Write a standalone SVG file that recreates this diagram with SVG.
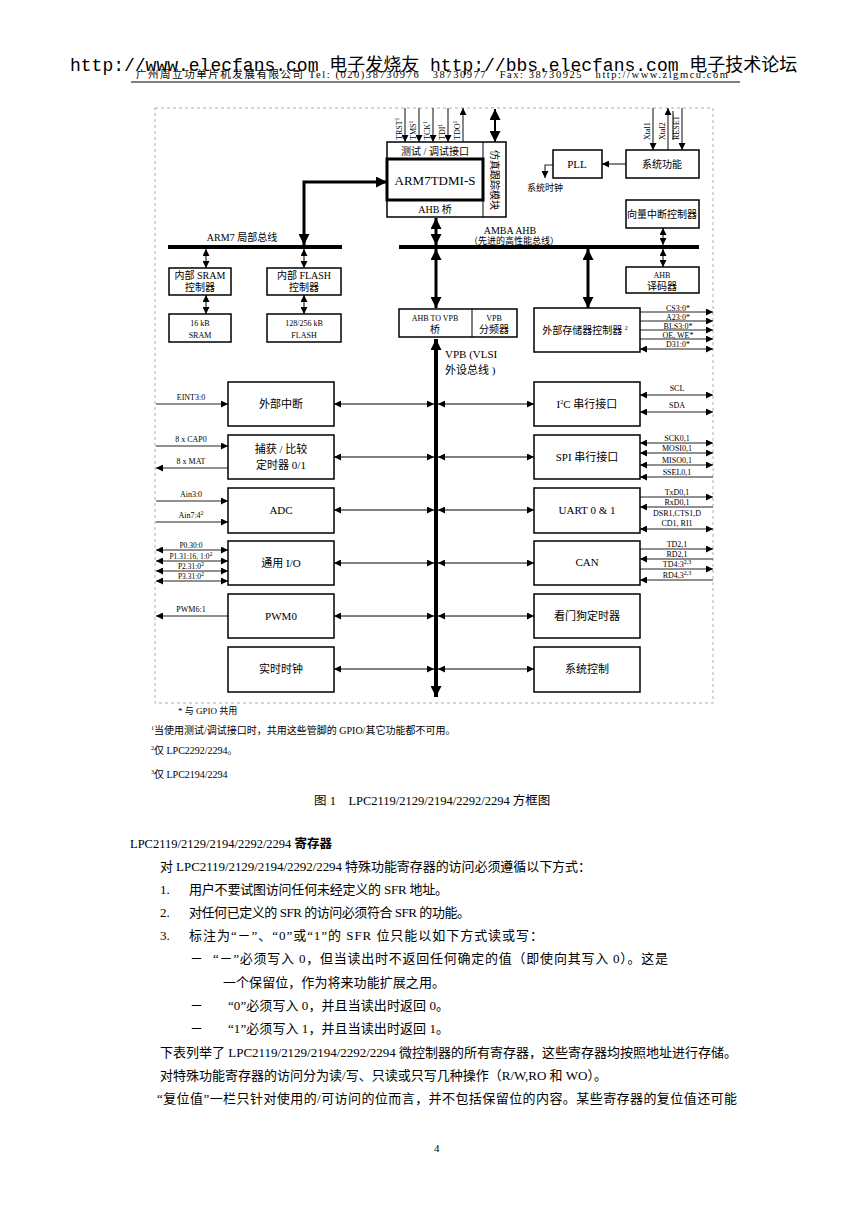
<svg xmlns="http://www.w3.org/2000/svg" width="868" height="1228" viewBox="0 0 868 1228">
<style>
.t{font-family:"Liberation Serif","Noto Sans CJK SC",serif;fill:#000}
.c{text-anchor:middle}
.f7{font-size:7.5px}.f8{font-size:8px}.f9{font-size:9px}.f10{font-size:10px}.f11{font-size:11px}.f12{font-size:12.5px}.f13{font-size:13px}
.box{fill:#fff;stroke:#000;stroke-width:1.5}
.bus{stroke:#000;stroke-width:4;fill:none}
.thick{stroke:#000;stroke-width:3;fill:none}
.thin{stroke:#000;stroke-width:1;fill:none}
.pin{stroke:#222;stroke-width:1.1;fill:none}
.sup{font-size:6px}
</style>
<defs>
<marker id="s" viewBox="0 0 8 8" refX="8" refY="4" markerWidth="7" markerHeight="7" markerUnits="userSpaceOnUse" orient="auto-start-reverse"><path d="M0,0L8,4L0,8z" fill="#000"/></marker>
<marker id="b" viewBox="0 0 10 10" refX="10" refY="5" markerWidth="11" markerHeight="11" markerUnits="userSpaceOnUse" orient="auto-start-reverse"><path d="M0,0L10,5L0,10z" fill="#000"/></marker>
</defs>
<rect width="868" height="1228" fill="#fff"/>

<g id="header">
<text class="t" x="136" y="78" font-size="10.5" textLength="592" xml:space="preserve">广州周立功单片机发展有限公司 Tel: (020)38730976   38730977   Fax: 38730925   http://www.zlgmcu.com</text>
<text x="70" y="71" font-family="Liberation Mono,'Noto Sans CJK SC',monospace" font-size="18" fill="#000">http://www.elecfans.com 电子发烧友 http://bbs.elecfans.com 电子技术论坛</text>
<line x1="131" y1="82" x2="740" y2="82" stroke="#000" stroke-width="1"/>
</g>

<rect id="frame" x="155" y="108" width="558" height="595" fill="none" stroke="#999" stroke-width="0.8" stroke-dasharray="3,3"/>

<g id="connectors">
<line class="bus" x1="168" y1="247" x2="342" y2="247"/>
<line class="bus" x1="399" y1="247" x2="699" y2="247"/>
<line class="bus" x1="436" y1="339" x2="436" y2="697" marker-start="url(#b)" marker-end="url(#b)"/>
<path class="thick" d="M304,245V182H387" marker-start="url(#b)" marker-end="url(#b)"/>
<line class="thick" x1="436" y1="218" x2="436" y2="245" marker-start="url(#b)" marker-end="url(#b)"/>
<line class="thick" x1="436" y1="249" x2="436" y2="308" marker-start="url(#b)" marker-end="url(#b)"/>
<line class="thick" x1="588" y1="249" x2="588" y2="308" marker-start="url(#b)" marker-end="url(#b)"/>
<line stroke="#000" stroke-width="2" x1="495" y1="109" x2="495" y2="142" marker-start="url(#b)" marker-end="url(#b)"/>
<line class="thin" x1="206" y1="249" x2="206" y2="268" marker-start="url(#s)" marker-end="url(#s)"/>
<line class="thin" x1="206" y1="295" x2="206" y2="314" marker-start="url(#s)" marker-end="url(#s)"/>
<line class="thin" x1="304" y1="249" x2="304" y2="268" marker-start="url(#s)" marker-end="url(#s)"/>
<line class="thin" x1="304" y1="295" x2="304" y2="314" marker-start="url(#s)" marker-end="url(#s)"/>
<line class="thin" x1="663" y1="228" x2="663" y2="245" marker-start="url(#s)" marker-end="url(#s)"/>
<line class="thin" x1="663" y1="249" x2="663" y2="267" marker-start="url(#s)" marker-end="url(#s)"/>
<!-- JTAG pins -->
<line class="pin" x1="405" y1="108" x2="405" y2="142" marker-end="url(#s)"/>
<line class="pin" x1="419" y1="108" x2="419" y2="142" marker-end="url(#s)"/>
<line class="pin" x1="433" y1="108" x2="433" y2="142" marker-end="url(#s)"/>
<line class="pin" x1="448" y1="108" x2="448" y2="142" marker-end="url(#s)"/>
<line class="pin" x1="463" y1="142" x2="463" y2="108" marker-end="url(#s)"/>
<!-- system pins -->
<line class="pin" x1="653" y1="108" x2="653" y2="150" marker-end="url(#s)"/>
<line class="pin" x1="668" y1="150" x2="668" y2="108" marker-end="url(#s)"/>
<line class="pin" x1="682" y1="108" x2="682" y2="150" marker-end="url(#s)"/>
<line class="pin" x1="626" y1="164" x2="602" y2="164" marker-end="url(#s)"/>
<path class="pin" d="M553,165H545V178" marker-end="url(#s)"/>
<!-- ext memory -->
<line class="pin" x1="640" y1="312" x2="713" y2="312" marker-end="url(#s)"/>
<line class="pin" x1="640" y1="321" x2="713" y2="321" marker-end="url(#s)"/>
<line class="pin" x1="640" y1="330" x2="713" y2="330" marker-end="url(#s)"/>
<line class="pin" x1="640" y1="339" x2="713" y2="339" marker-end="url(#s)"/>
<line class="pin" x1="640" y1="349" x2="713" y2="349" marker-start="url(#s)" marker-end="url(#s)"/>
<!-- VPB connections left -->
<line class="thin" x1="334" y1="404" x2="434" y2="404" marker-start="url(#s)" marker-end="url(#s)"/>
<line class="thin" x1="334" y1="457" x2="434" y2="457" marker-start="url(#s)" marker-end="url(#s)"/>
<line class="thin" x1="334" y1="510" x2="434" y2="510" marker-start="url(#s)" marker-end="url(#s)"/>
<line class="thin" x1="334" y1="563" x2="434" y2="563" marker-start="url(#s)" marker-end="url(#s)"/>
<line class="thin" x1="334" y1="616" x2="434" y2="616" marker-start="url(#s)" marker-end="url(#s)"/>
<line class="thin" x1="334" y1="669" x2="434" y2="669" marker-start="url(#s)" marker-end="url(#s)"/>
<!-- VPB connections right -->
<line class="thin" x1="438" y1="404" x2="534" y2="404" marker-start="url(#s)" marker-end="url(#s)"/>
<line class="thin" x1="438" y1="457" x2="534" y2="457" marker-start="url(#s)" marker-end="url(#s)"/>
<line class="thin" x1="438" y1="510" x2="534" y2="510" marker-start="url(#s)" marker-end="url(#s)"/>
<line class="thin" x1="438" y1="563" x2="534" y2="563" marker-start="url(#s)" marker-end="url(#s)"/>
<line class="thin" x1="438" y1="616" x2="534" y2="616" marker-start="url(#s)" marker-end="url(#s)"/>
<line class="thin" x1="438" y1="669" x2="534" y2="669" marker-start="url(#s)" marker-end="url(#s)"/>
<!-- left pins -->
<line class="pin" x1="156" y1="404" x2="228" y2="404" marker-end="url(#s)"/>
<line class="pin" x1="156" y1="446" x2="228" y2="446" marker-end="url(#s)"/>
<line class="pin" x1="228" y1="468" x2="156" y2="468" marker-end="url(#s)"/>
<line class="pin" x1="156" y1="501" x2="228" y2="501" marker-end="url(#s)"/>
<line class="pin" x1="156" y1="522" x2="228" y2="522" marker-end="url(#s)"/>
<line class="pin" x1="156" y1="550" x2="228" y2="550" marker-start="url(#s)" marker-end="url(#s)"/>
<line class="pin" x1="156" y1="561" x2="228" y2="561" marker-start="url(#s)" marker-end="url(#s)"/>
<line class="pin" x1="156" y1="571" x2="228" y2="571" marker-start="url(#s)" marker-end="url(#s)"/>
<line class="pin" x1="156" y1="581" x2="228" y2="581" marker-start="url(#s)" marker-end="url(#s)"/>
<line class="pin" x1="228" y1="616" x2="156" y2="616" marker-end="url(#s)"/>
<!-- right pins -->
<line class="pin" x1="640" y1="395" x2="713" y2="395" marker-start="url(#s)" marker-end="url(#s)"/>
<line class="pin" x1="640" y1="412" x2="713" y2="412" marker-start="url(#s)" marker-end="url(#s)"/>
<line class="pin" x1="640" y1="443" x2="713" y2="443" marker-start="url(#s)" marker-end="url(#s)"/>
<line class="pin" x1="640" y1="453" x2="713" y2="453" marker-start="url(#s)" marker-end="url(#s)"/>
<line class="pin" x1="640" y1="465" x2="713" y2="465" marker-start="url(#s)" marker-end="url(#s)"/>
<line class="pin" x1="713" y1="477" x2="640" y2="477" marker-end="url(#s)"/>
<line class="pin" x1="640" y1="497" x2="713" y2="497" marker-end="url(#s)"/>
<line class="pin" x1="713" y1="507" x2="640" y2="507" marker-end="url(#s)"/>
<line class="pin" x1="640" y1="529" x2="713" y2="529" marker-start="url(#s)" marker-end="url(#s)"/>
<line class="pin" x1="640" y1="549" x2="713" y2="549" marker-end="url(#s)"/>
<line class="pin" x1="713" y1="559" x2="640" y2="559" marker-end="url(#s)"/>
<line class="pin" x1="640" y1="569" x2="713" y2="569" marker-end="url(#s)"/>
<line class="pin" x1="713" y1="580" x2="640" y2="580" marker-end="url(#s)"/>
</g>

<g id="bus-labels">
<text class="t f10 c" x="242" y="241">ARM7 局部总线</text>
<text class="t f10 c" x="510" y="234">AMBA AHB</text>
<text class="t f9 c" x="514" y="244">（先进的高性能总线）</text>
<text class="t f11" x="445" y="358">VPB (VLSI</text>
<text class="t f11" x="445" y="374">外设总线 )</text>
<text class="t f9 c" x="545" y="191">系统时钟</text>
</g>

<g id="cpu">
<rect class="box" x="387" y="142" width="119" height="75"/>
<line class="thin" x1="483" y1="142" x2="483" y2="217" stroke-width="1.5"/>
<rect x="387" y="159" width="96" height="41" fill="#fff" stroke="#000" stroke-width="3"/>
<text class="t f10 c" x="435" y="155">测试 / 调试接口</text>
<text class="t f13 c" x="435" y="185">ARM7TDMI-S</text>
<text class="t f10 c" x="435" y="213">AHB 桥</text>
<text class="t f10 c" transform="translate(491,180) rotate(90)">仿真跟踪模块</text>
</g>

<g id="jtag-labels">
<text class="t f8" transform="translate(402,140) rotate(-90)">TRST<tspan class="sup" dy="-3">1</tspan></text>
<text class="t f8" transform="translate(416,140) rotate(-90)">TMS<tspan class="sup" dy="-3">1</tspan></text>
<text class="t f8" transform="translate(430,140) rotate(-90)">TCK<tspan class="sup" dy="-3">1</tspan></text>
<text class="t f8" transform="translate(445,140) rotate(-90)">TDI<tspan class="sup" dy="-3">1</tspan></text>
<text class="t f8" transform="translate(460,140) rotate(-90)">TDO<tspan class="sup" dy="-3">1</tspan></text>
<text class="t f8" transform="translate(650,140) rotate(-90)">Xtal1</text>
<text class="t f8" transform="translate(665,140) rotate(-90)">Xtal2</text>
<text class="t f8" transform="translate(679,140) rotate(-90)">RESET</text>
<line class="thin" x1="673" y1="111" x2="673" y2="140"/>
</g>

<g id="sram-ctrl"><rect class="box" x="169" y="268" width="62" height="27"/><text class="t f10 c" x="200" y="279">内部 SRAM</text><text class="t f10 c" x="200" y="291">控制器</text></g>
<g id="sram"><rect class="box" x="169" y="314" width="62" height="28"/><text class="t f8 c" x="200" y="326">16 kB</text><text class="t f8 c" x="200" y="338">SRAM</text></g>
<g id="flash-ctrl"><rect class="box" x="267" y="268" width="74" height="27"/><text class="t f10 c" x="304" y="279">内部 FLASH</text><text class="t f10 c" x="304" y="291">控制器</text></g>
<g id="flash"><rect class="box" x="267" y="314" width="74" height="28"/><text class="t f8 c" x="304" y="326">128/256 kB</text><text class="t f8 c" x="304" y="338">FLASH</text></g>

<g id="pll"><rect class="box" x="553" y="150" width="49" height="28"/><text class="t f11 c" x="577" y="168">PLL</text></g>
<g id="sysfunc"><rect class="box" x="626" y="150" width="73" height="28"/><text class="t f10 c" x="662" y="168">系统功能</text></g>
<g id="vic"><rect class="box" x="626" y="200" width="73" height="28"/><text class="t f10 c" x="662" y="218">向量中断控制器</text></g>
<g id="ahb-dec"><rect class="box" x="626" y="267" width="73" height="26"/><text class="t f8 c" x="662" y="278">AHB</text><text class="t f10 c" x="662" y="290">译码器</text></g>

<g id="vpb-bridge">
<rect class="box" x="399" y="309" width="118" height="28"/>
<line class="thin" x1="472" y1="309" x2="472" y2="337" stroke-width="1.5"/>
<text class="t f8 c" x="435" y="321">AHB TO VPB</text><text class="t f10 c" x="435" y="333">桥</text>
<text class="t f8 c" x="494" y="321">VPB</text><text class="t f10 c" x="494" y="333">分频器</text>
</g>

<g id="emc">
<rect class="box" x="534" y="308" width="106" height="44"/>
<text class="t f10 c" x="585" y="334">外部存储器控制器 <tspan class="sup" dy="-4">2</tspan></text>
<text class="t f8 c" x="678" y="311">CS3:0*</text>
<text class="t f8 c" x="678" y="320">A23:0*</text>
<text class="t f8 c" x="678" y="329">BLS3:0*</text>
<text class="t f8 c" x="678" y="338">OE, WE*</text>
<text class="t f8 c" x="678" y="347">D31:0*</text>
</g>

<g id="eint"><rect class="box" x="228" y="382" width="106" height="44"/><text class="t f11 c" x="281" y="408">外部中断</text>
<text class="t f8 c" x="191" y="400">EINT3:0</text></g>
<g id="timer"><rect class="box" x="228" y="435" width="106" height="44"/><text class="t f11 c" x="281" y="453">捕获 / 比较</text><text class="t f11 c" x="281" y="469">定时器 0/1</text>
<text class="t f8 c" x="191" y="442">8 x CAP0</text><text class="t f8 c" x="191" y="464">8 x MAT</text></g>
<g id="adc"><rect class="box" x="228" y="488" width="106" height="45"/><text class="t f11 c" x="281" y="514">ADC</text>
<text class="t f8 c" x="191" y="497">Ain3:0</text><text class="t f8 c" x="191" y="518">Ain7:4<tspan class="sup" dy="-3">2</tspan></text></g>
<g id="gpio"><rect class="box" x="228" y="541" width="106" height="44"/><text class="t f11 c" x="281" y="567">通用 I/O</text>
<text class="t f7 c" x="191" y="548">P0.30:0</text><text class="t f7 c" x="191" y="559">P1.31:16, 1:0<tspan class="sup" dy="-3">2</tspan></text>
<text class="t f7 c" x="191" y="569">P2.31:0<tspan class="sup" dy="-3">2</tspan></text><text class="t f7 c" x="191" y="579">P3.31:0<tspan class="sup" dy="-3">2</tspan></text></g>
<g id="pwm"><rect class="box" x="228" y="594" width="106" height="44"/><text class="t f11 c" x="281" y="620">PWM0</text>
<text class="t f8 c" x="191" y="612">PWM6:1</text></g>
<g id="rtc"><rect class="box" x="228" y="647" width="106" height="45"/><text class="t f11 c" x="281" y="673">实时时钟</text></g>

<g id="i2c"><rect class="box" x="534" y="382" width="106" height="44"/><text class="t f11 c" x="587" y="408">I<tspan class="sup" dy="-4">2</tspan><tspan dy="4">C 串行接口</tspan></text>
<text class="t f8 c" x="677" y="391">SCL</text><text class="t f8 c" x="677" y="408">SDA</text></g>
<g id="spi"><rect class="box" x="534" y="435" width="106" height="44"/><text class="t f11 c" x="587" y="461">SPI 串行接口</text>
<text class="t f8 c" x="677" y="441">SCK0,1</text><text class="t f8 c" x="677" y="451">MOSI0,1</text><text class="t f8 c" x="677" y="463">MISO0,1</text><text class="t f8 c" x="677" y="475">SSEL0,1</text></g>
<g id="uart"><rect class="box" x="534" y="488" width="106" height="45"/><text class="t f11 c" x="587" y="514">UART 0 &amp; 1</text>
<text class="t f8 c" x="677" y="495">TxD0,1</text><text class="t f8 c" x="677" y="505">RxD0,1</text><text class="t f8 c" x="677" y="516">DSR1,CTS1,D</text><text class="t f8 c" x="677" y="526">CD1, RI1</text></g>
<g id="can"><rect class="box" x="534" y="541" width="106" height="44"/><text class="t f11 c" x="587" y="566">CAN</text>
<text class="t f8 c" x="677" y="547">TD2,1</text><text class="t f8 c" x="677" y="557">RD2,1</text><text class="t f8 c" x="677" y="567">TD4:3<tspan class="sup" dy="-3">2,3</tspan></text><text class="t f8 c" x="677" y="578">RD4,3<tspan class="sup" dy="-3">2,3</tspan></text></g>
<g id="wdt"><rect class="box" x="534" y="594" width="106" height="44"/><text class="t f11 c" x="587" y="620">看门狗定时器</text></g>
<g id="sysctl"><rect class="box" x="534" y="647" width="106" height="45"/><text class="t f11 c" x="587" y="673">系统控制</text></g>

<g id="notes">
<text class="t f9" x="178" y="714">* 与 GPIO 共用</text>
<text class="t f10" x="151" y="734"><tspan class="sup" dy="-4">1</tspan><tspan dy="4">当使用测试/调试接口时，共用这些管脚的 GPIO/其它功能都不可用。</tspan></text>
<text class="t f10" x="151" y="754"><tspan class="sup" dy="-4">2</tspan><tspan dy="4">仅 LPC2292/2294。</tspan></text>
<text class="t f10" x="151" y="778"><tspan class="sup" dy="-4">3</tspan><tspan dy="4">仅 LPC2194/2294</tspan></text>
<text class="t f12" x="314" y="805" xml:space="preserve">图 1    LPC2119/2129/2194/2292/2294 方框图</text>
</g>

<g id="body">
<text class="t f12" x="130" y="848">LPC2119/2129/2194/2292/2294 <tspan font-weight="bold">寄存器</tspan></text>
<text class="t f13" x="160" y="871" textLength="431">对 LPC2119/2129/2194/2292/2294 特殊功能寄存器的访问必须遵循以下方式：</text>
<text class="t f13" x="160" y="894">1.</text><text class="t f13" x="189" y="894" textLength="259">用户不要试图访问任何未经定义的 SFR 地址。</text>
<text class="t f13" x="160" y="917">2.</text><text class="t f13" x="189" y="917" textLength="281">对任何已定义的 SFR 的访问必须符合 SFR 的功能。</text>
<text class="t f13" x="160" y="940">3.</text><text class="t f13" x="189" y="940" textLength="354">标注为“－”、“0”或“1”的 SFR 位只能以如下方式读或写：</text>
<text class="t f13" x="190" y="963">－</text><text class="t f13" x="213" y="963" textLength="455">“－”必须写入 0，但当读出时不返回任何确定的值（即使向其写入 0）。这是</text>
<text class="t f13" x="223" y="987" textLength="222">一个保留位，作为将来功能扩展之用。</text>
<text class="t f13" x="190" y="1010">－</text><text class="t f13" x="228" y="1010" textLength="221">“0”必须写入 0，并且当读出时返回 0。</text>
<text class="t f13" x="190" y="1033">－</text><text class="t f13" x="228" y="1033" textLength="221">“1”必须写入 1，并且当读出时返回 1。</text>
<text class="t f13" x="160" y="1057" textLength="577">下表列举了 LPC2119/2129/2194/2292/2294 微控制器的所有寄存器，这些寄存器均按照地址进行存储。</text>
<text class="t f13" x="160" y="1080" textLength="447">对特殊功能寄存器的访问分为读/写、只读或只写几种操作（R/W,RO 和 WO）。</text>
<text class="t f13" x="157" y="1103" textLength="580">“复位值”一栏只针对使用的/可访问的位而言，并不包括保留位的内容。某些寄存器的复位值还可能</text>
<text class="t f11" x="434" y="1152">4</text>
</g>
</svg>
